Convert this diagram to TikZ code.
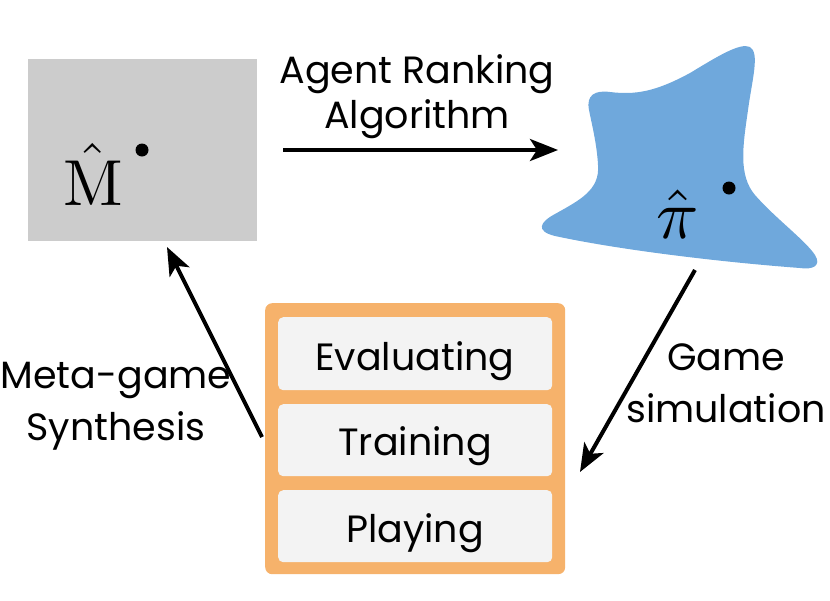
\documentclass[tikz,border=0pt]{standalone}
\usepackage{graphicx}
\usepackage{fontspec}
\setsansfont{Poppins}
\usetikzlibrary{arrows.meta}
\definecolor{boxgray}{HTML}{CCCCCC}
\definecolor{blobblue}{HTML}{6FA8DC}
\definecolor{frameorange}{HTML}{F6B26B}
\definecolor{cellgray}{HTML}{F3F3F3}
\tikzset{
  lbl/.style={font=\sffamily\fontsize{38}{52}\selectfont, inner sep=0pt, anchor=base, align=center},
  cell/.style={fill=cellgray, rounded corners=5pt, draw=none},
  conn/.style={line width=4pt, -{Stealth[length=28pt,width=22pt,inset=7pt]}},
  dotmark/.style={circle, fill=black, inner sep=0pt, minimum size=13pt},
}
\begin{document}
\begin{tikzpicture}[x=1pt,y=-1pt]
\useasboundingbox (0,0) rectangle (830,600);
% gray box
\node[fill=boxgray, minimum width=229pt, minimum height=182pt, inner sep=0pt, anchor=north west] (gbox) at (28,59) {};
\node[font=\normalsize, inner sep=0pt, anchor=base] (mhat) at (93,205) {\scalebox{6.5}{$\hat{\mathrm{M}}$}};
\node[dotmark] (mdot) at (142,150) {};
% blob
\fill[blobblue] (589,110)
 .. controls (586,95) and (595,90) .. (610,92)
 .. controls (635,95) and (655,92) .. (690,73)
 .. controls (715,58) and (740,42) .. (750,47)
 .. controls (760,53) and (752,80) .. (748,110)
 .. controls (743,145) and (738,175) .. (755,195)
 .. controls (775,218) and (805,240) .. (815,255)
 .. controls (822,266) and (812,270) .. (800,268)
 .. controls (720,262) and (620,250) .. (555,236)
 .. controls (535,231) and (540,222) .. (555,214)
 .. controls (580,200) and (600,190) .. (598,165)
 .. controls (597,145) and (592,125) .. (589,110) -- cycle;
\node[font=\normalsize, inner sep=0pt, anchor=base] (pihat) at (678,238) {\scalebox{7.0}{$\hat{\pi}$}};
\node[dotmark] (pdot) at (729,188) {};
% orange frame
\node[fill=frameorange, rounded corners=7pt, minimum width=300pt, minimum height=271pt, inner sep=0pt, anchor=north west] (frame) at (265,303) {};
\node[cell, minimum width=274pt, minimum height=73pt, inner sep=0pt, anchor=north west] (eval) at (278,317) {};
\node[cell, minimum width=274pt, minimum height=72pt, inner sep=0pt, anchor=north west] (train) at (278,404) {};
\node[cell, minimum width=274pt, minimum height=72pt, inner sep=0pt, anchor=north west] (play) at (278,490) {};
\node[lbl] (tEval) at (415,370) {Evaluating};
\node[lbl] (tTrain) at (415,455) {Training};
\node[lbl] (tPlay) at (415,542) {Playing};
% labels
\node[lbl, font=\sffamily\fontsize{38}{45}\selectfont] (tAgent) at (417,128) {Agent Ranking\\Algorithm};
\node[lbl] (tMeta) at (116,440) {Meta-game\\Synthesis};
\node[lbl] (tGame) at (726,422) {Game\\simulation};
% connectors
\coordinate (a1s) at (283,150);
\coordinate (a1e) at (558,150);
\coordinate (a2s) at (695,270);
\coordinate (a2e) at (580,472);
\coordinate (a3s) at (262,437);
\coordinate (a3e) at (167,247);
\draw[conn] (a1s) -- (a1e);
\draw[conn] (a2s) -- (a2e);
\draw[conn] (a3s) -- (a3e);
\end{tikzpicture}
\end{document}
